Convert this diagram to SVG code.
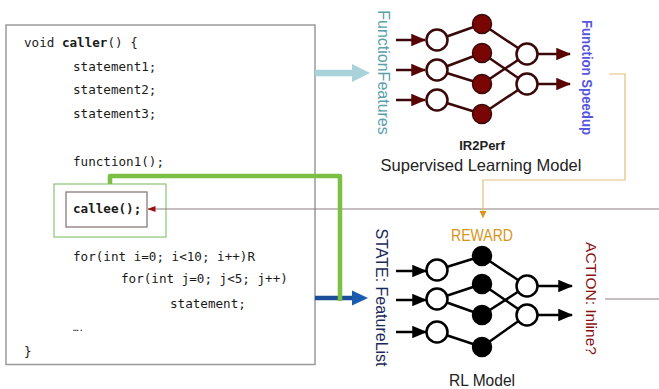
<svg xmlns="http://www.w3.org/2000/svg" width="659" height="389" viewBox="0 0 659 389">
<defs>
<style>
.code{font-family:"DejaVu Sans Mono","Liberation Mono",monospace;font-size:12.6px;fill:#1a1a1a}
.b{font-weight:bold}
.sans{font-family:"Liberation Sans",Arial,sans-serif}
.rl{stroke:#3a0808;stroke-width:2.5;fill:none}
.rc{stroke:#3a0808;stroke-width:2.5;fill:#fff}
.rf{stroke:#3a0808;stroke-width:1.5;fill:#7a0505}
.kl{stroke:#000;stroke-width:2.5;fill:none}
.kc{stroke:#000;stroke-width:2.5;fill:#fff}
.kf{stroke:#000;stroke-width:1.5;fill:#000}
</style>
<marker id="hr" markerWidth="6" markerHeight="5" refX="5.5" refY="2.5" orient="auto" markerUnits="strokeWidth"><path d="M0,0 L6,2.5 L0,5 Z" fill="#5a0505"/></marker>
<marker id="hk" markerWidth="6" markerHeight="5" refX="5.5" refY="2.5" orient="auto" markerUnits="strokeWidth"><path d="M0,0 L6,2.5 L0,5 Z" fill="#000"/></marker>
<marker id="hs" markerWidth="8" markerHeight="8" refX="7.5" refY="4" orient="auto" markerUnits="userSpaceOnUse"><path d="M0,1 L8,4 L0,7 Z" fill="#9a1010"/></marker>
<marker id="ho" markerWidth="8" markerHeight="8" refX="7" refY="4" orient="auto" markerUnits="userSpaceOnUse"><path d="M0,0.5 L7,4 L0,7.5 Z" fill="#d8951a"/></marker>
</defs>
<rect width="659" height="389" fill="#fff"/>

<g id="code-box">
<rect x="6" y="25" width="309" height="339.5" fill="#fff" stroke="#9a9a9a" stroke-width="1.5"/>
<text class="code" x="24" y="47">void <tspan class="b">caller</tspan>() {</text>
<text class="code" x="73" y="71">statement1;</text>
<text class="code" x="73" y="94">statement2;</text>
<text class="code" x="73" y="118">statement3;</text>
<text class="code" x="73" y="166">function1();</text>
<text class="code" x="73" y="261">for(int i=0; i&lt;10; i++)R</text>
<text class="code" x="121" y="283">for(int j=0; j&lt;5; j++)</text>
<text class="code" x="170" y="308">statement;</text>
<text class="code" x="73" y="331" style="font-size:9px">….</text>
<text class="code" x="24" y="356">}</text>
</g>

<g id="callee">
<rect x="54" y="184" width="112" height="53" fill="none" stroke="#8cc474" stroke-width="1.2"/>
<rect x="66" y="192" width="81" height="35" fill="#fff" stroke="#8a7a7a" stroke-width="1.3"/>
<text class="code b" x="73" y="213">callee();</text>
</g>

<g id="connectors">
<line x1="659" y1="209" x2="148" y2="209" stroke="#8a7f7f" stroke-width="1.2" marker-end="url(#hs)"/>
<line x1="605" y1="299" x2="659" y2="299" stroke="#8a7f7f" stroke-width="1.2"/>
<path d="M315,73 H354" stroke="#a9d2da" stroke-width="6.5" fill="none"/>
<path d="M352,64 L370,73 L352,82 Z" fill="#a9d2da"/>
<path d="M315,298 H354" stroke="#1c4f9a" stroke-width="4.5" fill="none"/>
<path d="M352,290.5 L368,298 L352,305.5 Z" fill="#1a5cb0"/>
<path d="M110,184 V176 H340 V301" stroke="#7cc043" stroke-width="4.5" fill="none" stroke-linejoin="round"/>
<path d="M609,74 H625 V180 H483 V218" stroke="#e3bf78" stroke-width="1.2" fill="none" marker-end="url(#ho)"/>
</g>

<g id="supervised-model">
<text class="sans" transform="translate(378,72.5) rotate(90)" text-anchor="middle" font-size="16" fill="#5aa0a8">FunctionFeatures</text>
<line class="rl" x1="396" y1="40" x2="425" y2="40" marker-end="url(#hr)"/>
<line class="rl" x1="396" y1="70" x2="425" y2="70" marker-end="url(#hr)"/>
<line class="rl" x1="396" y1="100" x2="425" y2="100" marker-end="url(#hr)"/>
<line class="rl" x1="437" y1="40" x2="482" y2="24"/>
<line class="rl" x1="437" y1="70" x2="482" y2="53"/>
<line class="rl" x1="437" y1="70" x2="482" y2="84"/>
<line class="rl" x1="437" y1="100" x2="482" y2="114"/>
<line class="rl" x1="482" y1="24" x2="527" y2="54"/>
<line class="rl" x1="482" y1="53" x2="527" y2="84"/>
<line class="rl" x1="482" y1="84" x2="527" y2="54"/>
<line class="rl" x1="482" y1="114" x2="527" y2="84"/>
<line class="rl" x1="538" y1="54" x2="570" y2="54" marker-end="url(#hr)"/>
<line class="rl" x1="538" y1="84" x2="570" y2="84" marker-end="url(#hr)"/>
<circle class="rc" cx="437" cy="40" r="10.5"/>
<circle class="rc" cx="437" cy="70" r="10.5"/>
<circle class="rc" cx="437" cy="100" r="10.5"/>
<circle class="rf" cx="482" cy="24" r="9.5"/>
<circle class="rf" cx="482" cy="53" r="9.5"/>
<circle class="rf" cx="482" cy="84" r="9.5"/>
<circle class="rf" cx="482" cy="114" r="9.5"/>
<circle class="rc" cx="527" cy="54" r="10.5"/>
<circle class="rc" cx="527" cy="84" r="10.5"/>
<text class="sans" transform="translate(582,77.5) rotate(90)" text-anchor="middle" font-size="15" font-weight="bold" fill="#5555e0" textLength="115" lengthAdjust="spacingAndGlyphs">Function Speedup</text>
<text class="sans" x="482" y="150" text-anchor="middle" font-size="13" font-weight="bold" fill="#222">IR2Perf</text>
<text class="sans" x="481" y="171" text-anchor="middle" font-size="16.5" fill="#222">Supervised Learning Model</text>
</g>

<g id="rl-model">
<text class="sans" transform="translate(376,297.5) rotate(90)" text-anchor="middle" font-size="16" fill="#1a2a5a">STATE: FeatureList</text>
<text class="sans" x="482" y="241" text-anchor="middle" font-size="16" fill="#d8951a" textLength="62" lengthAdjust="spacingAndGlyphs">REWARD</text>
<line class="kl" x1="396" y1="271" x2="426" y2="271" marker-end="url(#hk)"/>
<line class="kl" x1="396" y1="300" x2="426" y2="300" marker-end="url(#hk)"/>
<line class="kl" x1="396" y1="332" x2="426" y2="332" marker-end="url(#hk)"/>
<line class="kl" x1="437" y1="270" x2="482" y2="256"/>
<line class="kl" x1="437" y1="299" x2="482" y2="284"/>
<line class="kl" x1="437" y1="299" x2="482" y2="315"/>
<line class="kl" x1="437" y1="332" x2="482" y2="347"/>
<line class="kl" x1="482" y1="256" x2="527" y2="286"/>
<line class="kl" x1="482" y1="284" x2="527" y2="315"/>
<line class="kl" x1="482" y1="315" x2="527" y2="286"/>
<line class="kl" x1="482" y1="347" x2="527" y2="315"/>
<line class="kl" x1="538" y1="286" x2="572" y2="286" marker-end="url(#hk)"/>
<line class="kl" x1="538" y1="315" x2="572" y2="315" marker-end="url(#hk)"/>
<circle class="kc" cx="437" cy="270" r="10.5"/>
<circle class="kc" cx="437" cy="299" r="10.5"/>
<circle class="kc" cx="437" cy="332" r="10.5"/>
<circle class="kf" cx="482" cy="256" r="9.5"/>
<circle class="kf" cx="482" cy="284" r="9.5"/>
<circle class="kf" cx="482" cy="315" r="9.5"/>
<circle class="kf" cx="482" cy="347" r="9.5"/>
<circle class="kc" cx="527" cy="286" r="10.5"/>
<circle class="kc" cx="527" cy="315" r="10.5"/>
<text class="sans" transform="translate(586,298.5) rotate(90)" text-anchor="middle" font-size="15.5" fill="#8b1010">ACTION: Inline?</text>
<text class="sans" x="482" y="386" text-anchor="middle" font-size="16" fill="#222" textLength="66" lengthAdjust="spacingAndGlyphs">RL Model</text>
</g>
</svg>
